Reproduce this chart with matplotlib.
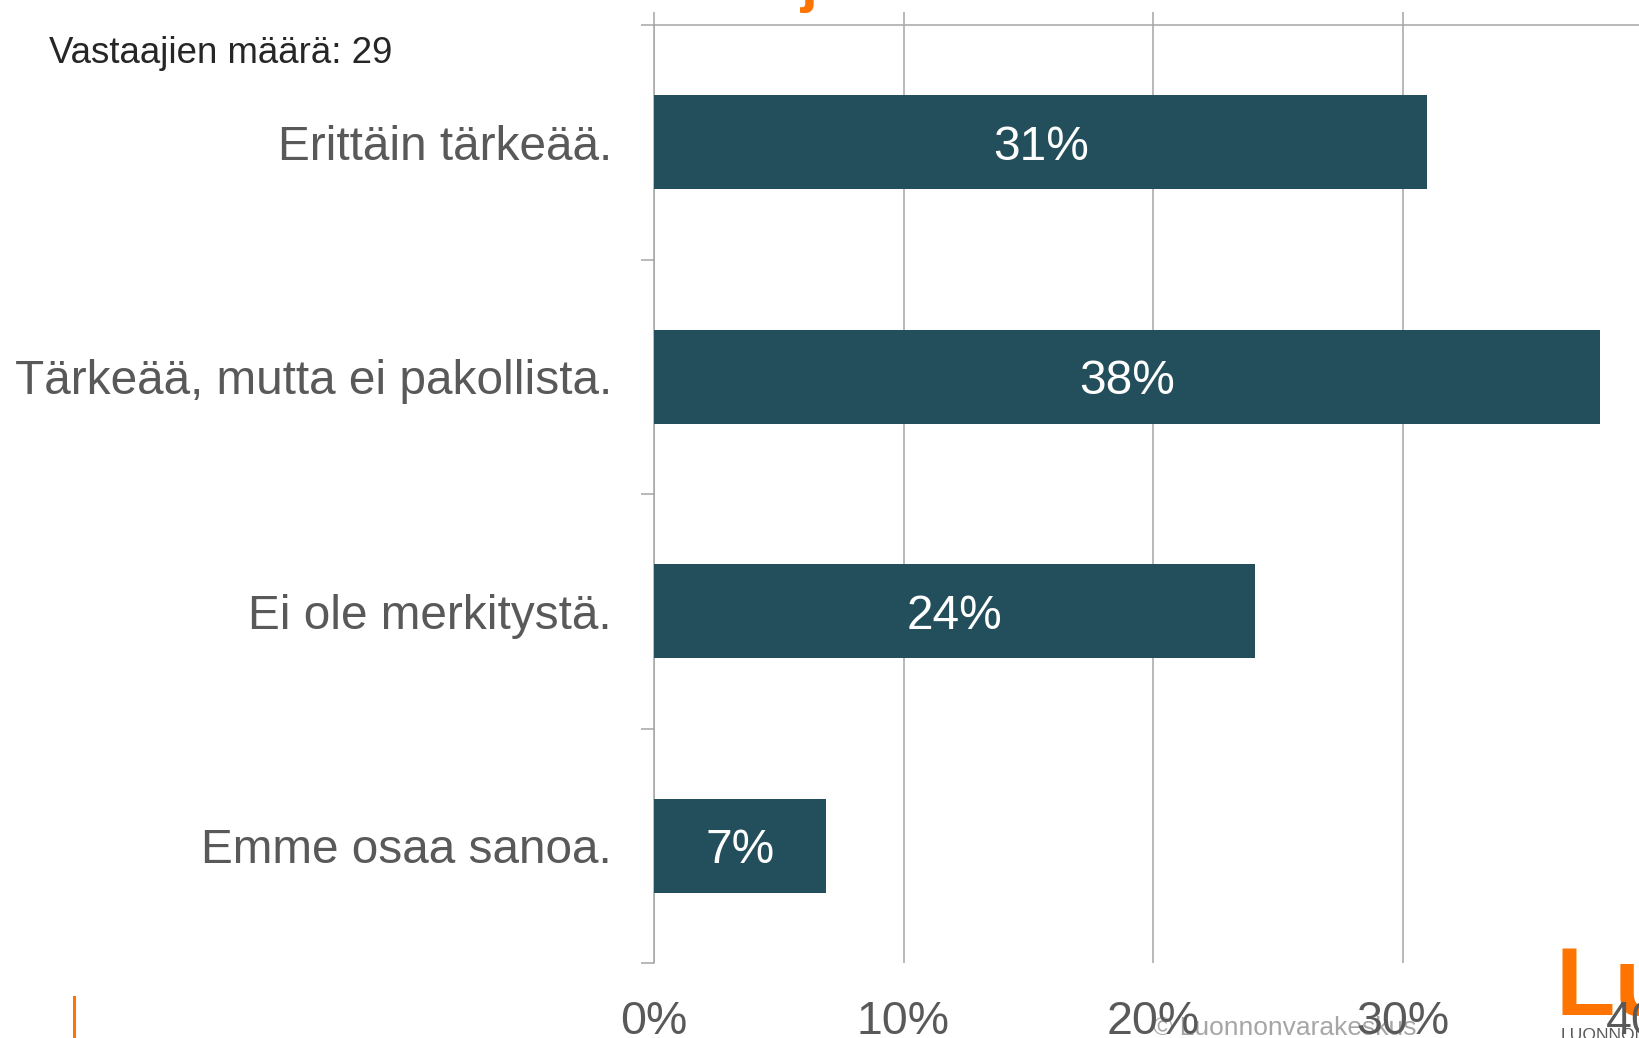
import matplotlib
matplotlib.use("Agg")
import matplotlib.pyplot as plt
from matplotlib.lines import Line2D

plt.rcParams['font.family'] = ['Liberation Sans', 'DejaVu Sans']

# data (29 respondents)
categories = ["Erittäin tärkeää.", "Tärkeää, mutta ei pakollista.",
              "Ei ole merkitystä.", "Emme osaa sanoa."]
shares = [31.0, 37.9, 24.1, 6.9]
share_labels = ["31%", "38%", "24%", "7%"]
x_ticks = [0, 10, 20, 30, 40]
x_tick_labels = ["0%", "10%", "20%", "30%", "40%"]
respondents_text = "Vastaajien määrä: 29"

bar_color = '#234E5B'
grid_color = '#A6A6A6'
text_gray = '#595959'
orange = '#FF7300'

fig = plt.figure(figsize=(16.39, 10.38), dpi=100)
ax = fig.add_axes([654 / 1639, 1 - 963 / 1038, 998 / 1639, 938 / 1038])
ax.set_facecolor('none')

ypos = list(range(len(categories)))
ax.barh(ypos, shares, height=0.4, color=bar_color, zorder=3)
for y, v, lab in zip(ypos, shares, share_labels):
    ax.text(v / 2, y, lab, ha='center', va='center_baseline', color='white',
            fontsize=34.4, zorder=4)

ax.set_xlim(0, 40)
ax.set_ylim(len(categories) - 0.5, -0.5)

ax.set_xticks(x_ticks)
ax.set_xticklabels(x_tick_labels)
ax.set_yticks(ypos)
ax.set_yticklabels(categories)
ax.set_yticks([i - 0.5 for i in range(len(categories) + 1)], minor=True)

ax.xaxis.grid(True, color=grid_color, linewidth=1.1)
ax.set_axisbelow(True)

for side in ['right', 'bottom']:
    ax.spines[side].set_visible(False)
for side in ['top', 'left']:
    ax.spines[side].set_color(grid_color)
    ax.spines[side].set_linewidth(1.1)

ax.tick_params(axis='x', top=True, bottom=False, labeltop=False, labelbottom=True,
               direction='out', length=9.4, width=1.1, color=grid_color,
               pad=17.5, labelsize=33.5, labelcolor=text_gray)
ax.tick_params(axis='y', which='major', length=0, pad=30.2,
               labelsize=34.4, labelcolor=text_gray)
ax.tick_params(axis='y', which='minor', length=9.4, width=1.1, color=grid_color,
               direction='out')

fig.text(0.0299, 0.9396, respondents_text, fontsize=26.4, color='#262626',
         ha='left', va='baseline')

# slide decorations
fig.text(1153 / 1639, 1 - 1035 / 1038, "© Luonnonvarakeskus", fontsize=19,
         color='#A6A6A6', ha='left', va='baseline', zorder=-1)
fig.text(1556 / 1639, 1 - 1015 / 1038, "Lu", fontsize=70, fontweight='bold',
         color=orange, ha='left', va='baseline', zorder=-1)
fig.text(1561 / 1639, 1 - 1040 / 1038, "LUONNONVARAKESKUS", fontsize=12.6,
         color=text_gray, ha='left', va='baseline', zorder=-1)
fig.text(818 / 1639, 1.0, "j", fontsize=44, fontweight='bold', color=orange,
         ha='right', va='baseline', zorder=-1)
fig.add_artist(Line2D([73.5 / 1639, 73.5 / 1639], [0, 1 - 997 / 1038],
                      color=orange, linewidth=2.2))

fig.savefig("out.png", dpi=100)
